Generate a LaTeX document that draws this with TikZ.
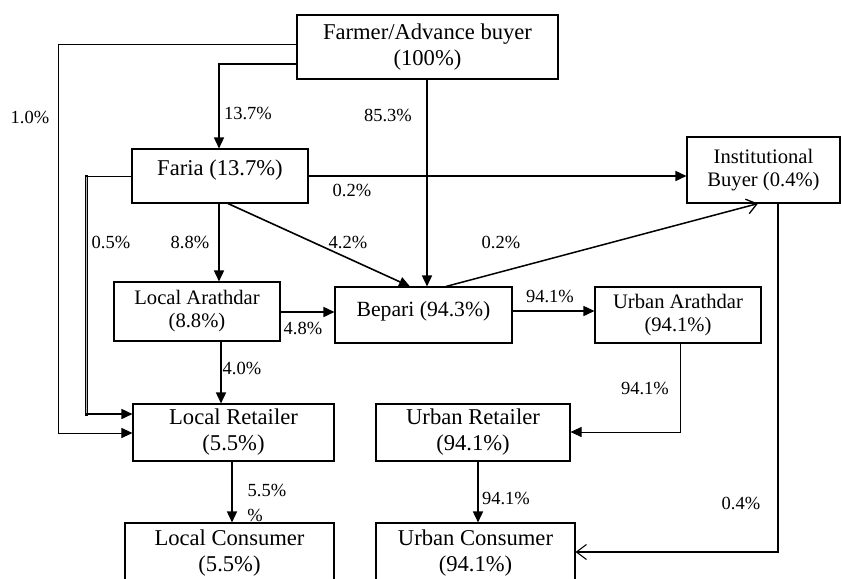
\documentclass[tikz,border=0pt]{standalone}
\usepackage{fontspec}
\setmainfont{Liberation Serif}
\usetikzlibrary{arrows.meta}
\tikzset{
  box/.style={draw, line width=1.1pt, inner sep=0pt, align=center, font=\fontsize{22.6}{26}\selectfont},
  midbox/.style={box, font=\fontsize{20.6}{23}\selectfont},
  lbl/.style={inner sep=0pt, font=\fontsize{18.5}{22}\selectfont},
  thickarr/.style={line width=1.6pt, -{Triangle[length=11pt,width=10pt]}},
  thinarr/.style={line width=1pt, -{Triangle[length=11pt,width=10pt]}},
  openarr/.style={line width=1.1pt, -{Straight Barb[length=10pt,width=15pt,line width=1.1pt]}},
  openarrthick/.style={line width=1.5pt, -{Straight Barb[length=10pt,width=15pt,line width=1.3pt]}}
}
\begin{document}
\begin{tikzpicture}[x=1pt,y=-1pt]
\clip (0,0) rectangle (842,578);
\fill[white] (0,0) rectangle (842,578);
% nodes
\node[box, minimum width=261pt, minimum height=64pt] (farmer) at (427.5,47) {Farmer/Advance buyer\\(100\%)};
\node[box, text depth=16pt, minimum width=176pt, minimum height=54pt] (faria) at (220,176) {Faria (13.7\%)};
\node[midbox, minimum width=153pt, minimum height=66pt] (inst) at (763.5,170) {Institutional\\Buyer (0.4\%)};
\node[midbox, minimum width=166pt, minimum height=59pt] (larath) at (197,311.5) {Local Arathdar\\(8.8\%)};
\node[box, font=\fontsize{21.7}{26}\selectfont, text depth=13pt, minimum width=177pt, minimum height=56pt] (bepari) at (423.5,315) {Bepari (94.3\%)};
\node[midbox, minimum width=166pt, minimum height=56pt] (uarath) at (678,315) {Urban Arathdar\\(94.1\%)};
\node[box, minimum width=201pt, minimum height=57pt] (lret) at (233.5,432.5) {Local Retailer\\(5.5\%)};
\node[box, minimum width=194pt, minimum height=57pt] (uret) at (473,432.5) {Urban Retailer\\(94.1\%)};
\node[box, minimum width=209pt, minimum height=60pt] (lcons) at (229.5,553) {Local Consumer\\(5.5\%)};
\node[box, minimum width=199pt, minimum height=60pt] (ucons) at (475.5,553) {Urban Consumer\\(94.1\%)};
% connectors
\draw[thinarr] (farmer.west |- 0,45) -- (58,45) -- (58,433) -- (lret.west |- 0,433);
\draw[thickarr] (farmer.west |- 0,64) -- (219,64) -- (faria.north -| 219,0);
\draw[thickarr] (farmer.south -| 427,0) -- (bepari.north -| 427,0);
\draw[thickarr] (faria.east) -- (faria.east -| inst.west);
% Faria -> Local Retailer (double vertical run)
\coordinate (d1) at (86.5,176);
\coordinate (d2) at (86.5,414);
\draw[line width=1pt] (faria.west) -- (d1);
\draw[line width=3pt, line cap=rect] (d1) -- (d2);
\draw[line width=1pt, gray!60] ([yshift=-1pt]d1) -- ([yshift=1pt]d2);
\draw[thickarr] ([xshift=-1.5pt]d2) -- (lret.west |- d2);
\draw[thickarr] (faria.south -| 219,0) -- (larath.north -| 219,0);
\draw[thickarr] (faria.south -| 228,0) -- (bepari.north -| 410,0);
\draw[thickarr] (larath.east |- 0,312) -- (bepari.west |- 0,312);
\draw[thickarr] (bepari.east |- 0,311) -- (uarath.west |- 0,311);
\draw[openarrthick] (bepari.north -| 446,0) -- (inst.south -| 758,0);
\draw[openarr] (inst.south -| 778,0) -- (778,552) -- (ucons.east |- 0,552);
\draw[thinarr] (uarath.south -| 680,0) -- (680,432) -- (uret.east |- 0,432);
\draw[thickarr] (larath.south -| 221,0) -- (lret.north -| 221,0);
\draw[thickarr] (lret.south -| 232,0) -- (lcons.north -| 232,0);
\draw[thickarr] (uret.south -| 478,0) -- (ucons.north -| 478,0);
% labels
\node[lbl] (l1) at (30,117) {1.0\%};
\node[lbl] (l2) at (248,113) {13.7\%};
\node[lbl] (l3) at (388,115) {85.3\%};
\node[lbl] (l4) at (352,190) {0.2\%};
\node[lbl] (l5) at (111,242) {0.5\%};
\node[lbl] (l6) at (190,242) {8.8\%};
\node[lbl] (l7) at (348,242) {4.2\%};
\node[lbl] (l8) at (501,242) {0.2\%};
\node[lbl] (l9) at (303,328) {4.8\%};
\node[lbl] (l10) at (550,296) {94.1\%};
\node[lbl] (l11) at (242,368) {4.0\%};
\node[lbl] (l12) at (645,388) {94.1\%};
\node[lbl] (l13) at (267,490) {5.5\%};
\node[lbl] (l14) at (255,515) {\%};
\node[lbl] (l15) at (506,498) {94.1\%};
\node[lbl] (l16) at (741,503) {0.4\%};
\end{tikzpicture}
\end{document}
